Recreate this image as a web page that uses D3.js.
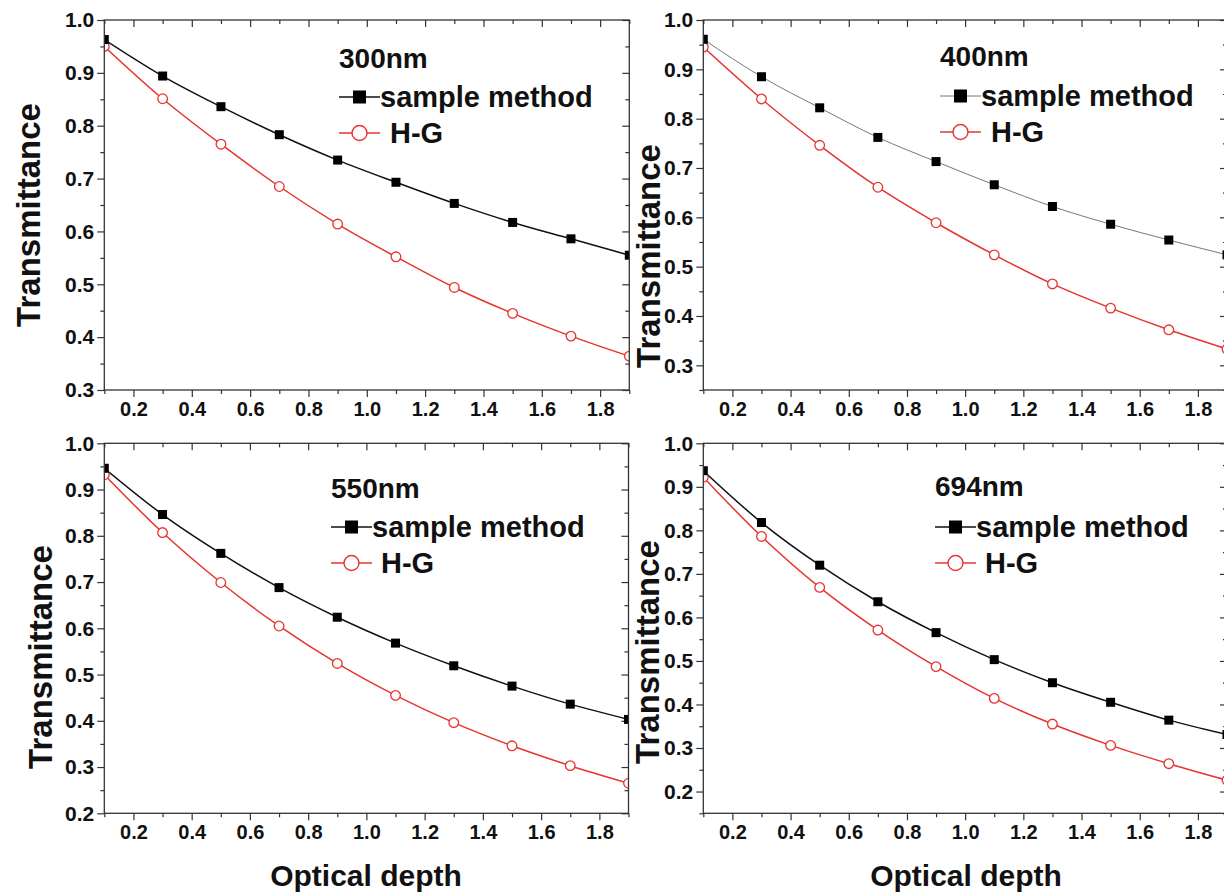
<!DOCTYPE html>
<html>
<head>
<meta charset="utf-8">
<script src="https://cdn.jsdelivr.net/npm/d3@7"></script>
<style>
  html, body { margin: 0; padding: 0; background: #fff; }
  svg { display: block; }
  text { font-family: "Liberation Sans", Arial, Helvetica, sans-serif; font-weight: bold; fill: #111; }
</style>
</head>
<body>
<svg id="chart" width="1224" height="892"></svg>
<script>
// ---- data ----
const opticalDepth = [0.1, 0.3, 0.5, 0.7, 0.9, 1.1, 1.3, 1.5, 1.7, 1.9];

const sample300 = [0.963, 0.894, 0.836, 0.783, 0.735, 0.693, 0.653, 0.617, 0.586, 0.555];
const hg300     = [0.950, 0.851, 0.765, 0.685, 0.614, 0.552, 0.494, 0.445, 0.402, 0.364];

const sample400 = [0.961, 0.885, 0.822, 0.762, 0.713, 0.666, 0.622, 0.586, 0.554, 0.524];
const hg400     = [0.945, 0.840, 0.746, 0.661, 0.589, 0.524, 0.465, 0.416, 0.372, 0.333];

const sample550 = [0.946, 0.846, 0.762, 0.688, 0.624, 0.568, 0.519, 0.475, 0.436, 0.403];
const hg550     = [0.932, 0.807, 0.699, 0.605, 0.524, 0.455, 0.396, 0.346, 0.303, 0.265];

const sample694 = [0.937, 0.818, 0.720, 0.636, 0.565, 0.503, 0.450, 0.405, 0.364, 0.331];
const hg694     = [0.922, 0.786, 0.669, 0.571, 0.487, 0.414, 0.355, 0.306, 0.264, 0.226];

const panelLabels = ["300nm", "400nm", "550nm", "694nm"];
const seriesNames = ["sample method", "H-G"];
const xTickLabels = [0.2, 0.4, 0.6, 0.8, 1.0, 1.2, 1.4, 1.6, 1.8];
const xMinorTicks = [0.1, 0.3, 0.5, 0.7, 0.9, 1.1, 1.3, 1.5, 1.7, 1.9];
const xAxisTitle = "Optical depth";
const yAxisTitle = "Transmittance";

// ---- layout ----
const panels = [
  { l: 104.3, r: 629.3, t: 20, b: 390, yMin: 0.3, sample: sample300, hg: hg300, label: panelLabels[0],
    sampleStroke: "#111", sampleWidth: 1.5,
    yt: { x: 40, y: 215 }, xt: null,
    leg: { x: 339, titleY: 68, row1: 97, row2: 133, hgGap: 10 } },
  { l: 703.3, r: 1227, t: 20, b: 390, yMin: 0.25, sample: sample400, hg: hg400, label: panelLabels[1],
    sampleStroke: "#777", sampleWidth: 1,
    yt: { x: 660, y: 256 }, xt: null,
    leg: { x: 940, titleY: 66, row1: 96, row2: 132, hgGap: 10 } },
  { l: 104.3, r: 628.5, t: 443.3, b: 813.3, yMin: 0.2, sample: sample550, hg: hg550, label: panelLabels[2],
    sampleStroke: "#111", sampleWidth: 1.5,
    yt: { x: 52, y: 657 }, xt: { x: 366, y: 886 },
    leg: { x: 331, titleY: 498, row1: 527, row2: 563, hgGap: 9 } },
  { l: 703.3, r: 1227, t: 443.3, b: 813.3, yMin: 0.15, sample: sample694, hg: hg694, label: panelLabels[3],
    sampleStroke: "#111", sampleWidth: 1.5,
    yt: { x: 659, y: 652 }, xt: { x: 966, y: 886 },
    leg: { x: 935, titleY: 496, row1: 527, row2: 563, hgGap: 9 } }
];

const RED = "#e8332e";
const svg = d3.select("#chart");

panels.forEach((p, i) => {
  const x = d3.scaleLinear().domain([0.1, 1.9]).range([p.l, p.r]);
  const y = d3.scaleLinear().domain([p.yMin, 1.0]).range([p.b, p.t]);
  const g = svg.append("g");

  const yMajor = d3.range(Math.ceil(p.yMin * 10 - 1e-9), 10.0001, 1).map(v => +(v / 10).toFixed(2));
  const yMinor = d3.range(Math.round(p.yMin * 20), 20.0001, 1).map(v => +(v / 20).toFixed(3)).filter(v => !yMajor.includes(v));

  const styleAxis = sel => {
    sel.select(".domain").remove();
    sel.selectAll(".tick line").attr("stroke", "#333").attr("stroke-width", 1.2);
  };
  const styleLabels = size => sel => sel.selectAll(".tick text")
    .attr("font-size", size).attr("fill", "#111")
    .attr("font-family", '"Liberation Sans", Arial, sans-serif').attr("font-weight", "bold");

  // left axis
  g.append("g").attr("transform", `translate(${p.l},0)`)
    .call(d3.axisLeft(y).tickValues(yMajor).tickSize(7).tickPadding(3).tickFormat(d3.format(".1f")))
    .call(styleAxis).call(styleLabels(21));
  g.append("g").attr("transform", `translate(${p.l},0)`)
    .call(d3.axisLeft(y).tickValues(yMinor).tickSize(4).tickFormat(""))
    .call(styleAxis);
  // right axis (inward)
  g.append("g").attr("transform", `translate(${p.r},0)`)
    .call(d3.axisRight(y).tickValues(yMajor).tickSize(-7).tickFormat(""))
    .call(styleAxis);
  g.append("g").attr("transform", `translate(${p.r},0)`)
    .call(d3.axisRight(y).tickValues(yMinor).tickSize(-4).tickFormat(""))
    .call(styleAxis);
  // bottom axis
  g.append("g").attr("transform", `translate(0,${p.b})`)
    .call(d3.axisBottom(x).tickValues(xTickLabels).tickSize(7).tickPadding(5).tickFormat(d3.format(".1f")))
    .call(styleAxis).call(styleLabels(20));
  g.append("g").attr("transform", `translate(0,${p.b})`)
    .call(d3.axisBottom(x).tickValues(xMinorTicks).tickSize(4).tickFormat(""))
    .call(styleAxis);
  // top axis (inward)
  g.append("g").attr("transform", `translate(0,${p.t})`)
    .call(d3.axisTop(x).tickValues(xTickLabels).tickSize(-7).tickFormat(""))
    .call(styleAxis);
  g.append("g").attr("transform", `translate(0,${p.t})`)
    .call(d3.axisTop(x).tickValues(xMinorTicks).tickSize(-4).tickFormat(""))
    .call(styleAxis);

  // clip
  const clipId = "clip" + i;
  svg.append("clipPath").attr("id", clipId).append("rect")
    .attr("x", p.l).attr("y", p.t).attr("width", p.r - p.l).attr("height", p.b - p.t);
  const plot = g.append("g").attr("clip-path", `url(#${clipId})`);

  const line = d3.line().x(d => x(d[0])).y(d => y(d[1])).curve(d3.curveMonotoneX);
  const sData = opticalDepth.map((d, k) => [d, p.sample[k]]);
  const hData = opticalDepth.map((d, k) => [d, p.hg[k]]);

  plot.append("path").attr("d", line(hData)).attr("fill", "none").attr("stroke", RED).attr("stroke-width", 1.5);
  plot.append("path").attr("d", line(sData)).attr("fill", "none").attr("stroke", p.sampleStroke).attr("stroke-width", p.sampleWidth);

  plot.selectAll("circle.hg").data(hData).join("circle")
    .attr("cx", d => x(d[0])).attr("cy", d => y(d[1])).attr("r", 4.8)
    .attr("fill", "#fff").attr("stroke", RED).attr("stroke-width", 1.3);
  plot.selectAll("rect.sm").data(sData).join("rect")
    .attr("x", d => x(d[0]) - 4.5).attr("y", d => y(d[1]) - 4.5).attr("width", 9).attr("height", 9)
    .attr("fill", "#000");

  // frame
  g.append("rect").attr("x", p.l).attr("y", p.t).attr("width", p.r - p.l).attr("height", p.b - p.t)
    .attr("fill", "none").attr("stroke", "#333").attr("stroke-width", 1.3);

  // y title
  g.append("text").attr("transform", `translate(${p.yt.x},${p.yt.y}) rotate(-90)`)
    .attr("text-anchor", "middle").attr("font-size", 33).text(yAxisTitle);
  // x title
  if (p.xt) {
    g.append("text").attr("x", p.xt.x).attr("y", p.xt.y).attr("text-anchor", "middle")
      .attr("font-size", 30).text(xAxisTitle);
  }

  // legend
  const L = p.leg;
  g.append("text").attr("x", L.x).attr("y", L.titleY).attr("font-size", 28).text(p.label);
  g.append("line").attr("x1", L.x).attr("x2", L.x + 41).attr("y1", L.row1).attr("y2", L.row1)
    .attr("stroke", p.sampleStroke).attr("stroke-width", p.sampleWidth);
  g.append("rect").attr("x", L.x + 20.5 - 6.5).attr("y", L.row1 - 6.5).attr("width", 13).attr("height", 13).attr("fill", "#000");
  g.append("text").attr("x", L.x + 41).attr("y", L.row1 + 10).attr("font-size", 29).text(seriesNames[0]);
  g.append("line").attr("x1", L.x).attr("x2", L.x + 41).attr("y1", L.row2).attr("y2", L.row2)
    .attr("stroke", RED).attr("stroke-width", 1.5);
  g.append("circle").attr("cx", L.x + 20.5).attr("cy", L.row2).attr("r", 7.5)
    .attr("fill", "#fff").attr("stroke", RED).attr("stroke-width", 1.4);
  g.append("text").attr("x", L.x + 41 + L.hgGap).attr("y", L.row2 + 10).attr("font-size", 29).text(seriesNames[1]);
});
</script>
</body>
</html>
